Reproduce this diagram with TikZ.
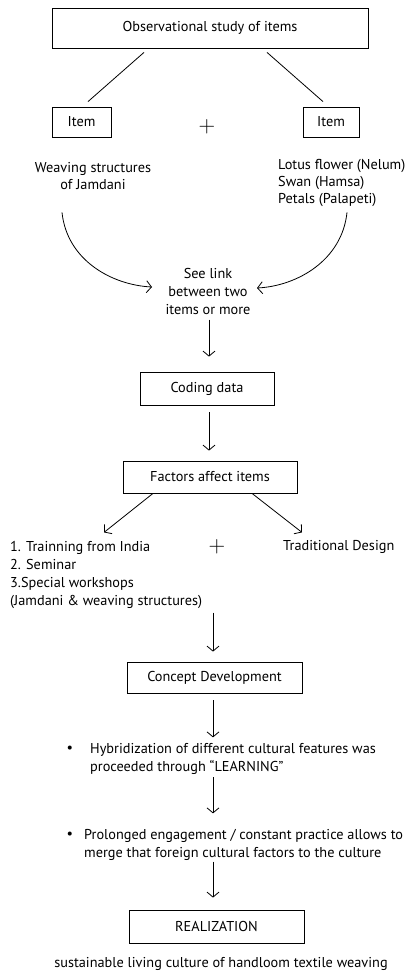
\documentclass[tikz,border=0pt]{standalone}
\usepackage{fontspec}
\setmainfont{PT Sans}
\newfontfamily\plusfont{Latin Modern Roman}
\usetikzlibrary{arrows.meta}
\begin{document}
\begin{tikzpicture}[x=1pt,y=-1pt,
  every node/.style={font=\fontsize{14.3}{17}\selectfont, inner sep=0pt},
  box/.style={draw, line width=0.8pt},
  conn/.style={line width=0.8pt},
  arr/.style={line width=0.8pt, -{Straight Barb[length=5pt,width=12pt]}},
  plussign/.style={font=\plusfont\fontsize{23}{23}\selectfont}]
\useasboundingbox (0,0) rectangle (419,979);

\node[box, minimum width=316pt, minimum height=40pt] (top) at (210,28) {Observational study of items};
\node[box, minimum width=59pt, minimum height=30pt] (itemL) at (81.5,122) {Item};
\node[box, minimum width=56pt, minimum height=30pt] (itemR) at (331,122) {Item};
\node[plussign] (plus1) at (207,127) {+};
\node[align=center, font=\fontsize{14.3}{16.5}\selectfont] (weave) at (93,176) {Weaving structures\\of Jamdani};
\node[align=left, anchor=west, font=\fontsize{14.3}{17}\selectfont] (lotus) at (278,183) {Lotus flower (Nelum)\\Swan (Hamsa)\\Petals (Palapeti)};
\node[align=center, font=\fontsize{14.3}{18}\selectfont] (see) at (208,291) {See link\\between two\\items or more};

\node[box, minimum width=134pt, minimum height=33pt] (coding) at (207,388.5) {Coding data};
\node[box, minimum width=174pt, minimum height=32pt] (factors) at (210,477) {Factors affect items};
\node[align=left, anchor=west, font=\fontsize{14.3}{18.3}\selectfont] (list) at (10,575) {1. Trainning from India\\2. Seminar\\3.Special workshops\\(Jamdani \& weaving structures)};
\node[plussign] (plus2) at (217,547) {+};
\node[anchor=west] (trad) at (283,547) {Traditional Design};

\node[box, minimum width=175pt, minimum height=31pt] (concept) at (214.5,677.5) {Concept Development};
\node[align=left, anchor=west, font=\fontsize{14.3}{18.5}\selectfont] (hyb) at (90,759) {\makebox[0pt][r]{\raisebox{1pt}{•}\hspace{17pt}}Hybridization of different cultural features was\\proceeded through “LEARNING”};
\node[align=left, anchor=west, font=\fontsize{14.3}{17.5}\selectfont] (prol) at (84,845) {\makebox[0pt][r]{\raisebox{1pt}{•}\hspace{11pt}}Prolonged engagement / constant practice allows to\\merge that foreign cultural factors to the culture};
\node[box, minimum width=175pt, minimum height=33pt] (real) at (216.5,926.5) {REALIZATION};
\node (final) at (221,964) {sustainable living culture of handloom textile weaving};

% connectors
\draw[conn] ([xshift=-66pt,yshift=-4pt]top.south) -- ([xshift=6.5pt,yshift=5pt]itemL.north);
\draw[conn] ([xshift=57pt,yshift=-4pt]top.south) -- ([xshift=-8pt,yshift=5pt]itemR.north);
\draw[arr] ([xshift=-19.5pt,yshift=-75pt]itemL.south) .. controls ++(5,48) and ++(-40,-2) .. ([xshift=-56pt,yshift=4pt]see.center);
\draw[arr] ([xshift=16pt,yshift=-75pt]itemR.south) .. controls ++(-5,48) and ++(40,-2) .. ([xshift=49pt,yshift=3pt]see.center);
\draw[arr] ([xshift=2pt,yshift=52pt]coding.north) -- ([xshift=2pt,yshift=15pt]coding.north);
\draw[arr] ([xshift=2pt,yshift=-7pt]coding.south) -- ([xshift=-1pt,yshift=10pt]factors.north);
\draw[arr] ([xshift=-57pt]factors.south) -- ([xshift=-106pt,yshift=-39pt]factors.south);
\draw[arr] ([xshift=42pt]factors.south) -- ([xshift=92pt,yshift=-39pt]factors.south);
\draw[arr] ([xshift=-1.5pt,yshift=49pt]concept.north) -- ([xshift=-1.5pt,yshift=10pt]concept.north);
\draw[arr] ([xshift=-1.5pt,yshift=-7pt]concept.south) -- ([xshift=-1.5pt,yshift=-44pt]concept.south);
\draw[arr] ([xshift=-1.5pt,yshift=-84pt]concept.south) -- ([xshift=-1.5pt,yshift=-120pt]concept.south);
\draw[arr] ([xshift=-3.5pt,yshift=48pt]real.north) -- ([xshift=-3.5pt,yshift=12pt]real.north);
\end{tikzpicture}
\end{document}
